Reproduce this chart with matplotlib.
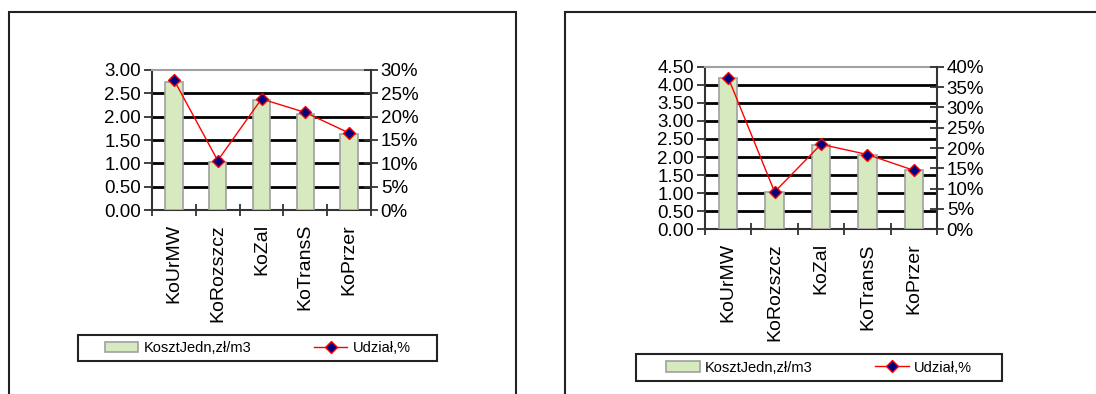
import matplotlib.pyplot as plt
from matplotlib.patches import Rectangle
from matplotlib.ticker import PercentFormatter

categories = ['KoUrMW', 'KoRozszcz', 'KoZal', 'KoTransS', 'KoPrzer']

cost_left = [2.74, 1.03, 2.35, 2.06, 1.62]
share_left = [27.9, 10.6, 23.8, 20.9, 16.5]

cost_right = [4.20, 1.03, 2.34, 2.07, 1.63]
share_right = [37.3, 9.2, 20.9, 18.4, 14.5]

bar_label = 'KosztJedn,zł/m3'
line_label = 'Udział,%'

NARROW = ['Liberation Sans Narrow', 'Liberation Sans', 'DejaVu Sans']
REGULAR = ['Liberation Sans', 'DejaVu Sans']


def draw_panel(fig, rect, costs, shares, ymax, pmax, legend_box):
    ax = fig.add_axes(rect)
    x = range(len(categories))
    bars = ax.bar(x, costs, width=0.4, color='#d7eabf', edgecolor='#a0a0a0',
                  linewidth=1.2, zorder=3, label=bar_label)
    ax.set_xlim(-0.5, len(categories) - 0.5)
    ax.set_ylim(0, ymax)
    yt = [i * 0.5 for i in range(int(ymax / 0.5) + 1)]
    ax.set_yticks(yt)
    ax.set_yticklabels(['%.2f' % v for v in yt], family=NARROW, fontsize=13.5)
    for v in yt[1:-1]:
        ax.axhline(v, color='black', linewidth=2, zorder=1)
    ax.set_xticks(list(x))
    ax.set_xticklabels(categories, rotation=90, family=REGULAR, fontsize=14)
    ax.tick_params(axis='x', length=0, pad=10)
    # ticks between categories
    ax.set_xticks([i + 0.5 for i in range(-1, len(categories))], minor=True)
    ax.tick_params(axis='x', which='minor', length=8, direction='inout',
                   width=1.3, color='#333333')
    ax.tick_params(axis='y', length=6, width=1.3, color='#333333', pad=2)
    for s in ['left', 'bottom']:
        ax.spines[s].set_color('#333333')
        ax.spines[s].set_linewidth(1.5)
    ax.spines['top'].set_color('#a0a0a0')
    ax.spines['top'].set_linewidth(1.5)
    ax.spines['right'].set_visible(False)

    ax2 = ax.twinx()
    line, = ax2.plot(x, shares, color='red', linewidth=1, marker='D',
                     markersize=6.5, markerfacecolor='#000080',
                     markeredgecolor='red', markeredgewidth=1, zorder=4,
                     label=line_label)
    ax2.set_ylim(0, pmax)
    pt = list(range(0, pmax + 1, 5))
    ax2.set_yticks(pt)
    ax2.yaxis.set_major_formatter(PercentFormatter(decimals=0))
    for lab in ax2.get_yticklabels():
        lab.set_family(NARROW)
        lab.set_fontsize(13.5)
    ax2.tick_params(axis='y', length=10, width=1.3, direction='inout',
                    color='#333333', pad=2)
    ax2.spines['right'].set_color('#333333')
    ax2.spines['right'].set_linewidth(1.5)
    for s in ['top', 'left', 'bottom']:
        ax2.spines[s].set_visible(False)

    # legend frame drawn separately, entries centred inside it
    lx, ly, lw, lh = legend_box
    fig.add_artist(Rectangle((lx, ly), lw, lh, transform=fig.transFigure,
                             fill=False, edgecolor='#222222', linewidth=1.5))
    fig.legend([bars, line], [bar_label, line_label], loc='center',
               bbox_to_anchor=(lx + lw / 2, ly + lh / 2),
               bbox_transform=fig.transFigure,
               ncol=2, frameon=False, handlelength=2.3, handleheight=0.75,
               handletextpad=0.35, columnspacing=4.3,
               prop={'family': NARROW, 'size': 10.5}, borderpad=0)


fig = plt.figure(figsize=(10.96, 3.94), dpi=100)

# chart frames
fig.add_artist(Rectangle((9 / 1096, -0.05), (516 - 9) / 1096, 1.05 - 12 / 394,
                         transform=fig.transFigure, fill=False,
                         edgecolor='#222222', linewidth=1.5))
fig.add_artist(Rectangle((565 / 1096, -0.05), 0.5, 1.05 - 12 / 394,
                         transform=fig.transFigure, fill=False,
                         edgecolor='#222222', linewidth=1.5))

draw_panel(fig, [152 / 1096, 1 - 210 / 394, 219 / 1096, 140 / 394],
           cost_left, share_left, 3.0, 30,
           (78 / 1096, 1 - 361 / 394, 359 / 1096, 26 / 394))
draw_panel(fig, [705 / 1096, 1 - 229.3 / 394, 232 / 1096, 162.6 / 394],
           cost_right, share_right, 4.5, 40,
           (636 / 1096, 1 - 380.7 / 394, 366 / 1096, 26.4 / 394))

fig.savefig('out.png', dpi=100)
